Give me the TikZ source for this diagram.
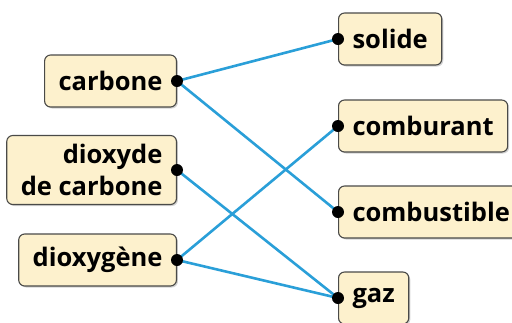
\documentclass[tikz,border=0pt]{standalone}
\usepackage{fontspec}
\setmainfont{Open Sans}
\usepackage{tikz}
\usetikzlibrary{shadows}
\definecolor{boite}{HTML}{FDF1CD}
\definecolor{bord}{HTML}{4A4A48}
\definecolor{lien}{HTML}{2A9FD8}
\tikzstyle{etiquette} = [draw=bord, fill=boite, line width=1.1pt, rectangle, rounded corners=6pt, inner xsep=14pt, inner ysep=3pt, minimum height=52pt, drop shadow={shadow xshift=1.5pt, shadow yshift=-1.5pt, opacity=0.35}, font=\fontsize{25.5}{32}\selectfont\bfseries]
\tikzstyle{point} = [circle, fill=black, inner sep=0pt, minimum size=12pt]
\tikzstyle{relie} = [draw=lien, line width=2.6pt]

\begin{document}
\begin{tikzpicture}[x=1pt,y=-1pt]
	\useasboundingbox (0,0) rectangle (512,322);
	% colonne de gauche
	\node[etiquette, anchor=east] (carbone) at (177,81) {carbone};
	\node[etiquette, anchor=east, align=right, minimum height=69pt] (dioxyde) at (177,170) {dioxyde\\de carbone};
	\node[etiquette, anchor=east] (dioxygene) at (177,260) {dioxygène};
	% colonne de droite
	\node[etiquette, anchor=west] (solide) at (338,39) {solide};
	\node[etiquette, anchor=west] (comburant) at (338,126) {comburant};
	\node[etiquette, anchor=west] (combustible) at (338,212) {combustible};
	\node[etiquette, anchor=west] (gaz) at (338,298) {gaz};
	% liaisons
	\draw[relie] (carbone.east) -- (solide.west);
	\draw[relie] (carbone.east) -- (combustible.west);
	\draw[relie] (dioxyde.east) -- (gaz.west);
	\draw[relie] (dioxygene.east) -- (comburant.west);
	\draw[relie] (dioxygene.east) -- (gaz.west);
	% points
	\foreach \n in {carbone,dioxyde,dioxygene}
		\node[point] (\n-p) at (\n.east) {};
	\foreach \n in {solide,comburant,combustible,gaz}
		\node[point] (\n-p) at (\n.west) {};
\end{tikzpicture}
\end{document}
